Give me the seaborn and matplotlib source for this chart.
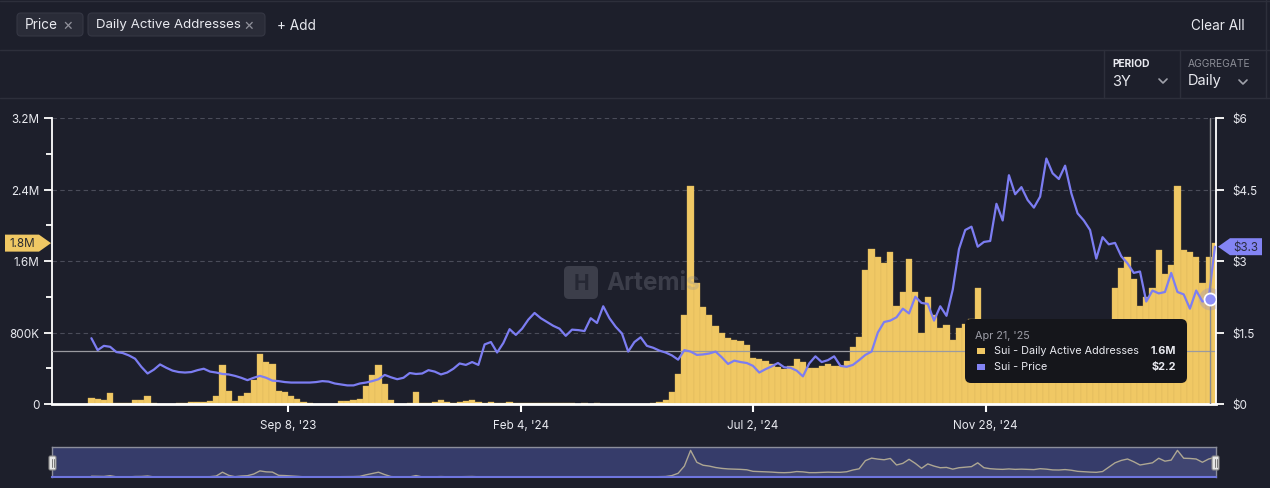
import matplotlib
matplotlib.use("Agg")
import matplotlib.pyplot as plt
from matplotlib.patches import FancyBboxPatch, Polygon, Rectangle
from matplotlib.lines import Line2D
from matplotlib.transforms import IdentityTransform
import seaborn as sns
import pandas as pd

W, H = 1270, 489

# ---- data (one sample every 4 days) ----
dates = pd.date_range("2023-05-05", periods=181, freq="4D")

# Sui daily active addresses, thousands
daa_k = [
    70, 60, 50, 120, 15, 10, 10, 45, 50, 90,
    10, 5, 5, 5, 8, 10, 20, 20, 25, 30,
    90, 440, 150, 30, 90, 120, 270, 560, 470, 450,
    150, 130, 90, 60, 20, 8, 5, 5, 5, 5,
    30, 35, 40, 60, 200, 320, 440, 220, 40, 5,
    5, 8, 130, 8, 15, 20, 40, 20, 15, 25,
    30, 45, 20, 15, 20, 15, 15, 20, 10, 10,
    10, 15, 10, 8, 10, 8, 10, 8, 5, 8,
    5, 8, 5, 5, 5, 3, 3, 3, 3, 5,
    15, 25, 45, 130, 340, 1000, 2440, 1350, 1080, 1000,
    870, 790, 740, 720, 700, 660, 520, 500, 480, 450,
    410, 395, 420, 500, 470, 400, 400, 420, 445, 430,
    430, 480, 640, 750, 1500, 1730, 1640, 1580, 1700, 1100,
    1250, 1620, 1250, 800, 1200, 1000, 850, 880, 720, 850,
    900, 950, 1300, 850, 760, 720, 700, 740, 700, 720,
    700, 680, 760, 720, 650, 640, 680, 620, 520, 480,
    450, 430, 500, 900, 1300, 1520, 1650, 1400, 1100, 1200,
    1300, 1720, 1450, 1550, 2440, 1720, 1700, 1650, 1350, 1650,
    1800,
]

# Sui price, USD
price = [
    1.38, 1.13, 1.22, 1.20, 1.09, 1.07, 1.02, 0.95, 0.78, 0.64,
    0.72, 0.83, 0.76, 0.70, 0.67, 0.66, 0.67, 0.71, 0.74, 0.68,
    0.66, 0.63, 0.62, 0.59, 0.55, 0.50, 0.55, 0.59, 0.55, 0.49,
    0.48, 0.46, 0.45, 0.45, 0.45, 0.45, 0.46, 0.48, 0.47, 0.43,
    0.41, 0.39, 0.39, 0.43, 0.45, 0.48, 0.52, 0.61, 0.56, 0.52,
    0.55, 0.65, 0.63, 0.64, 0.71, 0.68, 0.62, 0.66, 0.74, 0.85,
    0.82, 0.88, 0.82, 1.25, 1.30, 1.08, 1.28, 1.57, 1.45, 1.58,
    1.77, 1.91, 1.80, 1.72, 1.64, 1.58, 1.43, 1.56, 1.55, 1.53,
    1.80, 1.70, 2.05, 1.80, 1.62, 1.48, 1.10, 1.30, 1.40, 1.22,
    1.18, 1.12, 1.08, 1.02, 0.93, 1.13, 1.10, 1.03, 1.04, 1.06,
    1.10, 0.98, 0.84, 0.91, 0.88, 0.86, 0.80, 0.66, 0.73, 0.79,
    0.86, 0.77, 0.76, 0.70, 0.58, 0.85, 1.00, 0.88, 0.92, 1.00,
    0.80, 0.78, 0.82, 0.92, 1.03, 1.10, 1.50, 1.72, 1.75, 1.82,
    2.00, 1.90, 2.25, 2.12, 2.10, 1.75, 2.05, 1.85, 2.40, 3.25,
    3.65, 3.72, 3.30, 3.40, 3.42, 4.20, 3.85, 4.80, 4.40, 4.55,
    4.28, 4.12, 4.35, 5.15, 4.84, 4.72, 5.00, 4.42, 4.00, 3.85,
    3.65, 3.05, 3.50, 3.35, 3.38, 3.10, 2.95, 2.75, 2.78, 2.15,
    2.38, 2.32, 2.35, 2.75, 2.35, 2.30, 2.00, 2.38, 2.15, 2.20,
    3.30,
]

daa_ticks = [0, 800, 1600, 2400, 3200]
daa_tick_labels = ["0", "800K", "1.6M", "2.4M", "3.2M"]
daa_minor = [400, 1200, 2000, 2800]
price_ticks = [0, 1.5, 3, 4.5, 6]
price_tick_labels = ["$0", "$1.5", "$3", "$4.5", "$6"]
date_ticks = pd.to_datetime(["2023-09-08", "2024-02-04", "2024-07-02", "2024-11-28"])
date_tick_labels = ["Sep 8, '23", "Feb 4, '24", "Jul 2, '24", "Nov 28, '24"]

hover_date = pd.Timestamp("2025-04-21")
hover_label = "Apr 21, '25"
hover_daa = "1.6M"
hover_price = 2.2
cursor_level = 593  # horizontal crosshair, thousands

x_start = pd.Timestamp("2023-04-09 18:00")
x_end = pd.Timestamp("2025-04-24 17:00")

# ---- style ----
BG = "#1d1f2b"
YEL = "#f0c864"
PUR = "#7c7df2"
TXT = "#e9eaf0"
GRID = "#4a4c59"
LINE = "#2d2f3b"
ID = IdentityTransform()

sns.set_style("dark")
plt.rcParams["font.family"] = ["Inter", "DejaVu Sans"]

fig = plt.figure(figsize=(W / 100, H / 100), dpi=100, facecolor=BG)

# ---- main chart ----
ax = fig.add_axes([52 / W, 1 - 405 / H, 1164 / W, 286 / H])
ax.set_facecolor(BG)
ax.bar(dates, daa_k, width=4, color=YEL, edgecolor="#d9b459", linewidth=0.25, zorder=2)
ax.set_ylim(0, 3200)
ax.set_yticks(daa_ticks)
ax.set_yticklabels(daa_tick_labels)
ax.set_yticks(daa_minor, minor=True)
ax.grid(False)
ax.yaxis.grid(True, color=GRID, linestyle=(0, (4, 3)), linewidth=0.8)
ax.set_axisbelow(True)
for s in ["top", "right"]:
    ax.spines[s].set_visible(False)
ax.spines["left"].set_color("white")
ax.spines["left"].set_linewidth(1.3)
ax.spines["bottom"].set_color("white")
ax.spines["bottom"].set_linewidth(2)
ax.tick_params(axis="y", which="major", left=True, length=6, width=1.3, color="white",
               labelcolor=TXT, labelsize=8.4, pad=3)
ax.tick_params(axis="y", which="minor", left=True, length=4, width=1.3, color="white")
ax.tick_params(axis="x", bottom=True, length=6, width=1.5, color="white",
               labelcolor=TXT, labelsize=8.4, pad=5)
ax.axhline(cursor_level, color="#9a9aa0", lw=0.9, zorder=3)

ax2 = ax.twinx()
sns.lineplot(x=dates, y=price, ax=ax2, color=PUR, linewidth=1.6, zorder=4)
ax2.set_ylim(0, 6)
ax2.set_yticks(price_ticks)
ax2.set_yticklabels(price_tick_labels)
ax2.grid(False)
ax2.set_ylabel("")
for s in ["top", "left", "bottom"]:
    ax2.spines[s].set_visible(False)
ax2.spines["right"].set_color("white")
ax2.spines["right"].set_linewidth(1.3)
ax2.tick_params(axis="y", right=True, length=6, width=1.3, color="white",
                labelcolor=TXT, labelsize=8.4, pad=6)
ax2.axvline(hover_date, color="#8b8b90", lw=1, zorder=5)
ax2.scatter([hover_date], [hover_price], s=260, color=PUR, alpha=0.25, edgecolors="none", zorder=6)
ax2.scatter([hover_date], [hover_price], s=75, color="#8e8ff7", edgecolors="white",
            linewidths=1.3, zorder=7)

ax.set_xticks(date_ticks)
ax.set_xticklabels(date_tick_labels)
ax.set_xlim(x_start, x_end)
ax.set_xlabel("")

# ---- value tags at the axes ----
yl = ax.transData.transform((0, daa_k[-1]))[1]
fig.add_artist(Polygon([(5, yl - 8.5), (39, yl - 8.5), (51, yl), (39, yl + 8.5), (5, yl + 8.5)],
                       closed=True, fc=YEL, ec="none", transform=ID))
fig.text(22, yl, f"{daa_k[-1] / 1000:.1f}M", transform=ID, ha="center", va="center",
         fontsize=8.4, color="#2a2b30")
yr = ax2.transData.transform((0, price[-1]))[1]
fig.add_artist(Polygon([(1218, yr), (1230, yr + 8.5), (1262, yr + 8.5), (1262, yr - 8.5), (1230, yr - 8.5)],
                       closed=True, fc="#8384f4", ec="none", transform=ID))
fig.text(1246, yr, f"${price[-1]:.1f}", transform=ID, ha="center", va="center",
         fontsize=8.4, color="#2a2b40")

# ---- watermark ----
fig.add_artist(FancyBboxPatch((564, H - 300), 34, 33, boxstyle="round,pad=0,rounding_size=5",
                              fc="#8e909d", ec="none", alpha=0.28, transform=ID))
fig.text(581, H - 284, "H", transform=ID, ha="center", va="center", fontsize=15,
         fontweight="bold", color=BG, alpha=0.7)
fig.text(606, H - 284, "Artemis", transform=ID, ha="left", va="center", fontsize=17.5,
         fontweight="bold", color="#8e909d", alpha=0.28)

# ---- tooltip ----
fig.add_artist(FancyBboxPatch((965, H - 384), 222, 64, boxstyle="round,pad=0,rounding_size=6",
                              fc="#15161b", ec="none", transform=ID))
fig.text(975, H - 336.5, hover_label, transform=ID, va="center", fontsize=7.8, color="#9c9da6")
fig.add_artist(Rectangle((977, H - 354.5), 8, 6, fc=YEL, ec="none", transform=ID))
fig.add_artist(Rectangle((977, H - 370.5), 8, 6, fc="#8384f4", ec="none", transform=ID))
fig.text(994, H - 351, "Sui - Daily Active Addresses", transform=ID, va="center", fontsize=7.8, color=TXT)
fig.text(994, H - 367, "Sui - Price", transform=ID, va="center", fontsize=7.8, color=TXT)
fig.text(1176, H - 351, hover_daa, transform=ID, va="center", ha="right", fontsize=7.8,
         color=TXT, fontweight="bold")
fig.text(1176, H - 367, f"${hover_price:.1f}", transform=ID, va="center", ha="right", fontsize=7.8,
         color=TXT, fontweight="bold")

# ---- navigator ----
nav = fig.add_axes([52 / W, 1 - 478 / H, 1164 / W, 30 / H])
nav.set_facecolor("#363c6a")
nav.fill_between(dates, daa_k, color="#ffffff", alpha=0.05, lw=0)
sns.lineplot(x=dates, y=daa_k, ax=nav, color="#aea793", linewidth=1.0)
nav.set_xlim(x_start, x_end)
nav.set_ylim(0, 2750)
nav.set_xticks([])
nav.set_yticks([])
nav.set_xlabel("")
nav.set_ylabel("")
nav.grid(False)
for s in ["top", "left", "right"]:
    nav.spines[s].set_color("#8c8e9c")
    nav.spines[s].set_linewidth(1)
nav.spines["bottom"].set_color("#6e75de")
nav.spines["bottom"].set_linewidth(1.5)
for hx in (49, 1212):
    fig.add_artist(FancyBboxPatch((hx, H - 471), 7, 14, boxstyle="round,pad=0,rounding_size=1.5",
                                  fc="#e6e6e6", ec="#8a8a8a", lw=0.8, transform=ID))
    for lx in (hx + 2.5, hx + 4.5):
        fig.add_artist(Line2D([lx, lx], [H - 468, H - 460], color="#777777", lw=0.7, transform=ID))

# ---- header controls ----
for yy in (1.5, 50.5, 98.5):
    fig.add_artist(Line2D([0, W], [H - yy, H - yy], color=LINE, lw=1, transform=ID))
for xx in (1103.5, 1179.5):
    fig.add_artist(Line2D([xx, xx], [H - 50.5, H - 98.5], color=LINE, lw=1, transform=ID))
fig.add_artist(Line2D([1265.5, 1265.5], [H, H - 98.5], color=LINE, lw=1, transform=ID))

fig.add_artist(FancyBboxPatch((17, H - 37), 66, 23, boxstyle="round,pad=0,rounding_size=4",
                              fc="#2a2c38", ec="#353744", lw=0.8, transform=ID))
fig.add_artist(FancyBboxPatch((88, H - 37), 177, 23, boxstyle="round,pad=0,rounding_size=4",
                              fc="#2a2c38", ec="#353744", lw=0.8, transform=ID))
fig.text(25, H - 25.5, "Price", transform=ID, va="center", fontsize=9.8, color=TXT)
fig.text(68, H - 25.5, "×", transform=ID, va="center", ha="center", fontsize=11.5, color="#8f909a")
fig.text(96, H - 25.5, "Daily Active Addresses", transform=ID, va="center", fontsize=9.6, color=TXT)
fig.text(249, H - 25.5, "×", transform=ID, va="center", ha="center", fontsize=11.5, color="#8f909a")
fig.text(277, H - 26.5, "+ Add", transform=ID, va="center", fontsize=9.8, color=TXT)
fig.text(1245, H - 26.5, "Clear All", transform=ID, va="center", ha="right", fontsize=9.8, color=TXT)

fig.text(1112, H - 64, "PERIOD", transform=ID, va="center", fontsize=7.4, fontweight="bold", color=TXT)
fig.text(1112, H - 82, "3Y", transform=ID, va="center", fontsize=10.5, color=TXT)
fig.text(1188, H - 64, "AGGREGATE", transform=ID, va="center", fontsize=7.4, color="#8b8d96")
fig.text(1188, H - 81, "Daily", transform=ID, va="center", fontsize=10.5, color=TXT)
for cx, cy in ((1163, 82), (1243, 83)):
    fig.add_artist(Line2D([cx - 4, cx, cx + 4], [H - cy + 2, H - cy - 2, H - cy + 2],
                          color="#a0a2ab", lw=1.2, transform=ID))

fig.savefig("out.png", dpi=100, facecolor=BG)
